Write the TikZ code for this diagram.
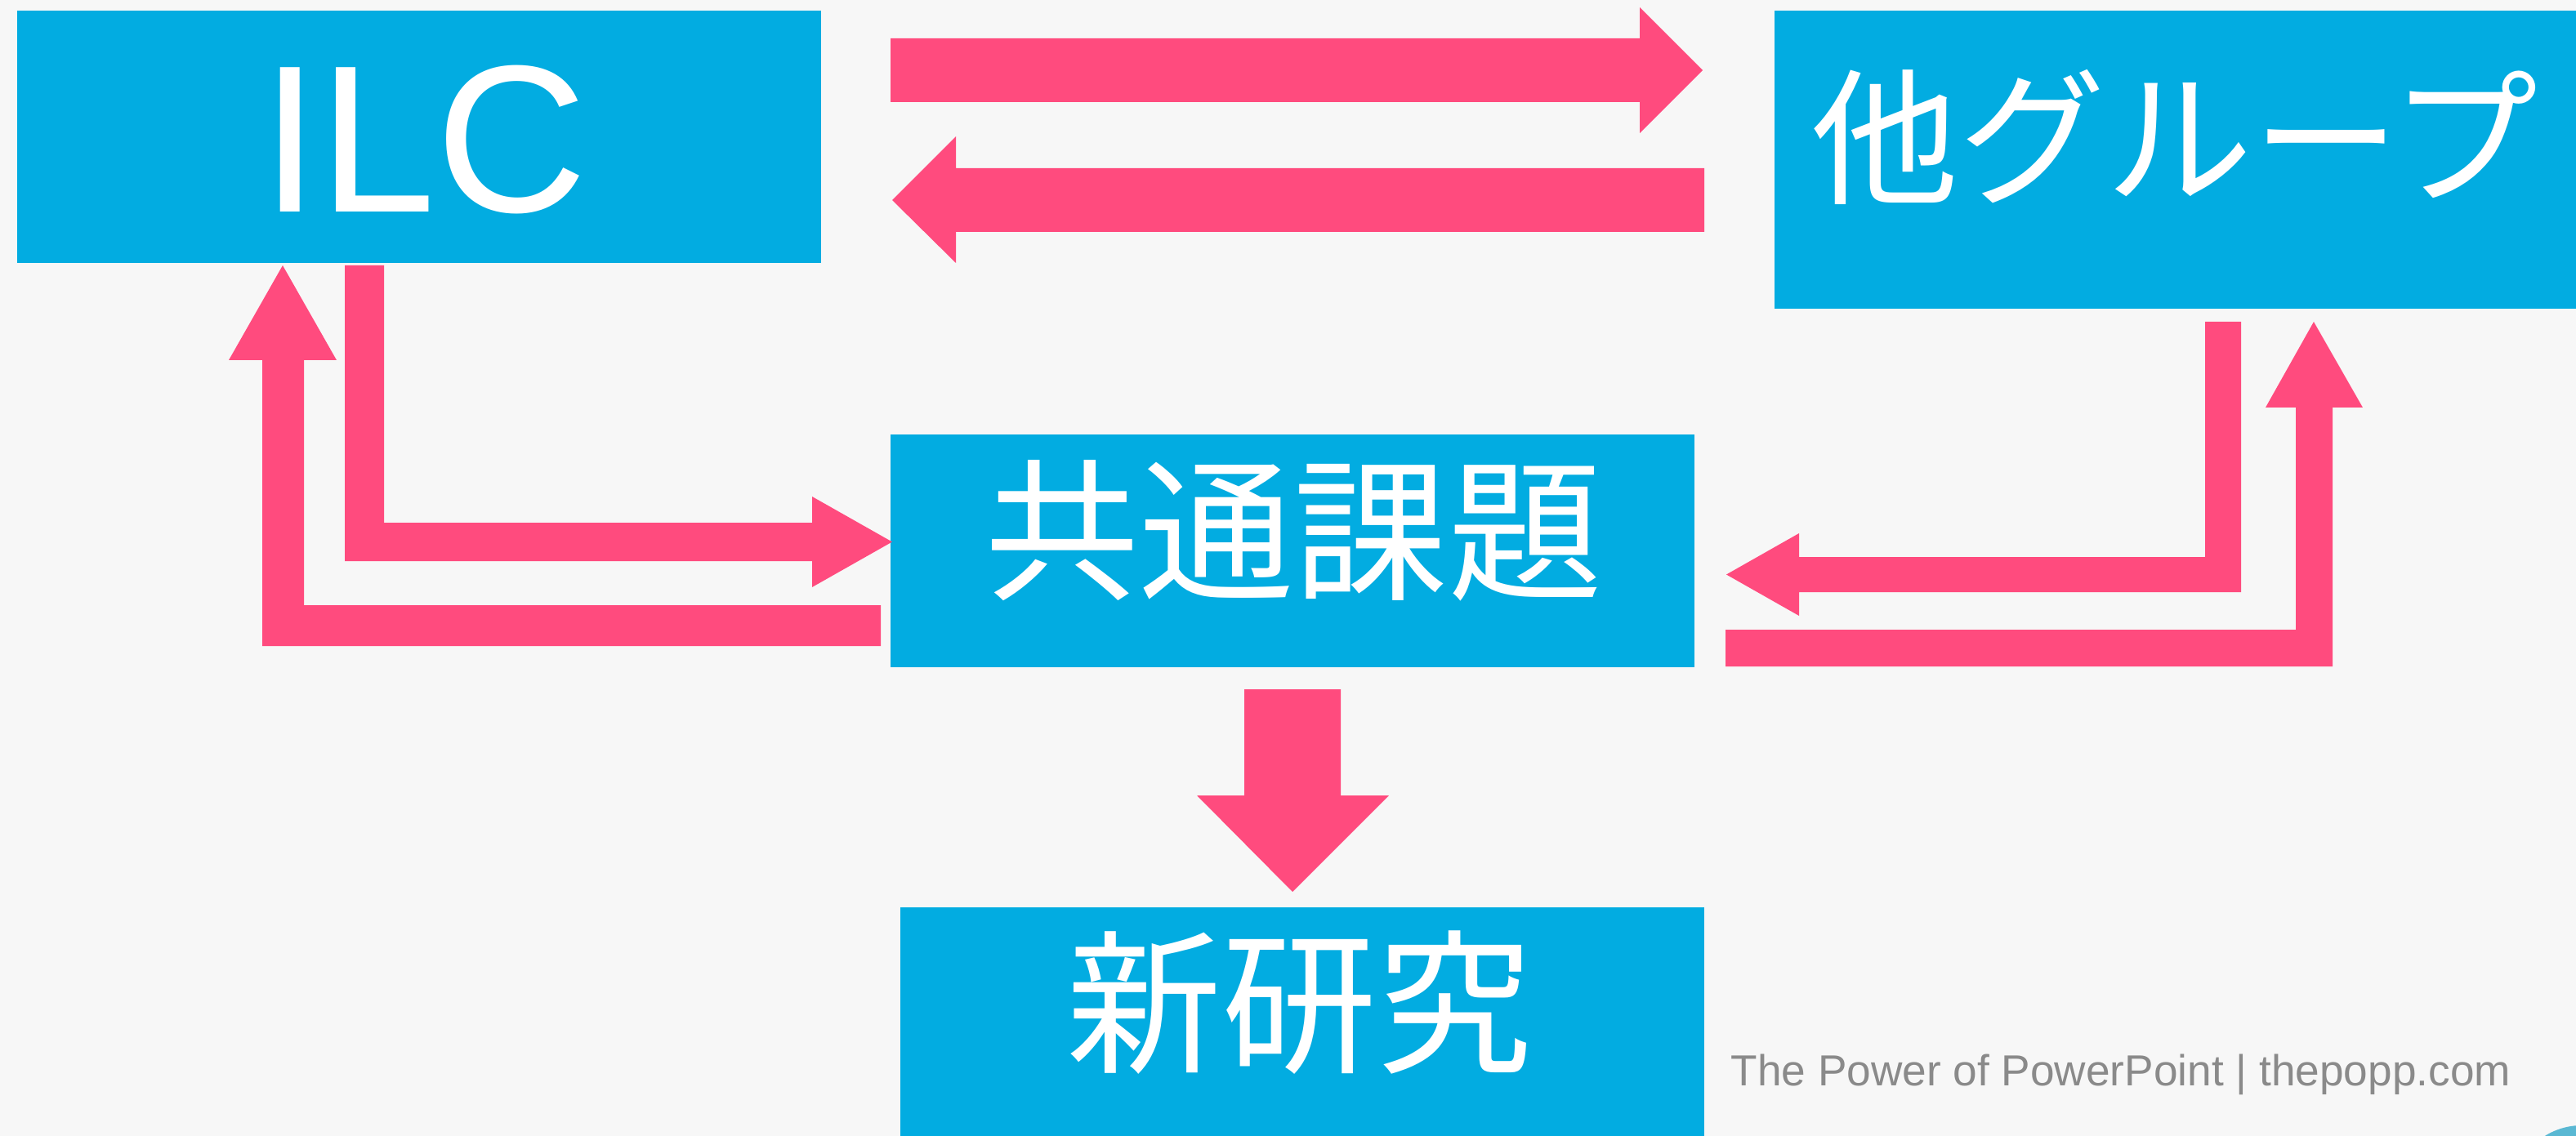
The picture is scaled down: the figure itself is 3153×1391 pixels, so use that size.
\documentclass[tikz,border=0pt]{standalone}
\usepackage{fontspec}
\setmainfont{Liberation Sans}
\newfontfamily\cjk{Noto Sans CJK JP}
\definecolor{bg}{HTML}{F7F7F7}
\definecolor{boxblue}{HTML}{02ACE1}
\definecolor{arrowpink}{HTML}{FF4B7E}
\definecolor{markgray}{HTML}{8A8A8A}
\definecolor{cornerteal}{HTML}{5AB8D3}
\tikzset{
  box/.style={fill=boxblue, draw=none},
  label/.style={text=white, inner sep=0pt, anchor=center},
  blockarrow/.style={fill=arrowpink, draw=none},
}
\begin{document}
\begin{tikzpicture}[x=0.25pt, y=-0.25pt]
\useasboundingbox (0,0) rectangle (3153,1391);
\clip (0,0) rectangle (3153,1391);
\fill[bg] (0,0) rectangle (3153,1391);

% boxes
\path[box] (21,13) rectangle (1005,322);
\path[box] (2172,13) rectangle (3160,378);
\path[box] (1090,532) rectangle (2074,817);
\path[box] (1102,1111) rectangle (2086,1400);
\coordinate (ilc) at (513,167);
\coordinate (other) at (2662,195);
\coordinate (common) at (1582,674);
\coordinate (new) at (1594,1250);

% labels
\node[label, font=\fontsize{64.25}{70}\selectfont] (ilcT) at (519,171) {ILC};
\node[label, font=\cjk\fontsize{45}{50}\selectfont] (otherT) at (2662,168) {他グループ};
\node[label, font=\cjk\fontsize{47.25}{52}\selectfont] (commonT) at (1583,650) {共通課題};
\node[label, font=\cjk\fontsize{47.5}{52}\selectfont] (newT) at (1590,1228) {新研究};

% arrows: ILC -> other
\path[blockarrow] (1090,47) -- (2007,47) -- (2007,9) -- (2084,86) -- (2007,163) -- (2007,125) -- (1090,125) -- cycle;
% other -> ILC
\path[blockarrow] (2086,206) -- (1170,206) -- (1170,167) -- (1092,245) -- (1170,322) -- (1170,284) -- (2086,284) -- cycle;
% ILC -> common
\path[blockarrow] (422,325) -- (470,325) -- (470,640) -- (994,640) -- (994,608) -- (1092,663.5) -- (994,719) -- (994,687) -- (422,687) -- cycle;
% common -> ILC
\path[blockarrow] (1078,741) -- (1078,791) -- (321,791) -- (321,441) -- (280,441) -- (346,325) -- (412,441) -- (372,441) -- (372,741) -- cycle;
% other -> common
\path[blockarrow] (2743,394) -- (2699,394) -- (2699,682) -- (2202,682) -- (2202,653) -- (2113,703.5) -- (2202,754) -- (2202,725) -- (2743,725) -- cycle;
% common -> other
\path[blockarrow] (2112,771) -- (2810,771) -- (2810,499) -- (2773,499) -- (2832,394) -- (2892,499) -- (2855,499) -- (2855,816) -- (2112,816) -- cycle;
% common -> new
\path[blockarrow] (1523,844) -- (1641,844) -- (1641,974) -- (1700,974) -- (1582,1092) -- (1465,974) -- (1523,974) -- cycle;

% watermark
\node[anchor=base west, inner sep=0pt, text=markgray, font=\fontsize{13.3}{15}\selectfont] (mark) at (2118,1329) {The Power of PowerPoint | thepopp.com};

% corner circle
\fill[cornerteal] (3160,1463) circle[radius=85];
\end{tikzpicture}
\end{document}
